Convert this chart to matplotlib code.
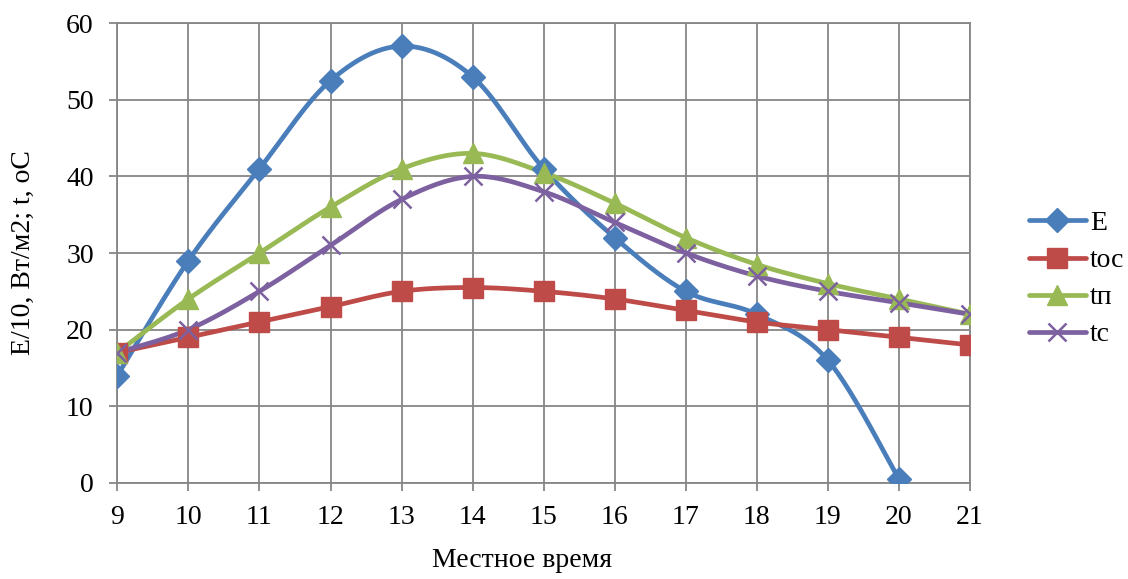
import numpy as np
import matplotlib
matplotlib.use('Agg')
import matplotlib.pyplot as plt
from matplotlib.lines import Line2D

plt.rcParams['font.family'] = ['Liberation Serif', 'DejaVu Serif']

hours = [9, 10, 11, 12, 13, 14, 15, 16, 17, 18, 19, 20, 21]
E_vals = [14, 29, 41, 52.5, 57, 53, 41, 32, 25, 22, 16, 0.5]
toc_vals = [17, 19, 21, 23, 25, 25.5, 25, 24, 22.5, 21, 20, 19, 18]
tp_vals = [17, 24, 30, 36, 41, 43, 40.5, 36.5, 32, 28.5, 26, 24, 22]
tc_vals = [17, 20, 25, 31, 37, 40, 38, 34, 30, 27, 25, 23.5, 22]


def smooth(x, y, n=30):
    # Catmull-Rom style bezier, like the spreadsheet "smoothed line"
    x = np.asarray(x, float)
    y = np.asarray(y, float)
    xs, ys = [x[0]], [y[0]]
    t = np.linspace(0, 1, n)[1:]
    for i in range(len(x) - 1):
        p0 = np.array([x[max(i - 1, 0)], y[max(i - 1, 0)]])
        p1 = np.array([x[i], y[i]])
        p2 = np.array([x[i + 1], y[i + 1]])
        p3 = np.array([x[min(i + 2, len(x) - 1)], y[min(i + 2, len(x) - 1)]])
        c1 = p1 + (p2 - p0) / 6.0
        c2 = p2 - (p3 - p1) / 6.0
        b = ((1 - t) ** 3)[:, None] * p1 + (3 * (1 - t) ** 2 * t)[:, None] * c1 \
            + (3 * (1 - t) * t ** 2)[:, None] * c2 + (t ** 3)[:, None] * p2
        xs.extend(b[:, 0])
        ys.extend(b[:, 1])
    return np.array(xs), np.array(ys)


series = [
    ('E', hours[:len(E_vals)], E_vals, '#4A7EBB', 'D', 12.5),
    ('tос', hours, toc_vals, '#BE4B48', 's', 14),
    ('tп', hours, tp_vals, '#98B954', '^', 14),
    ('tс', hours, tc_vals, '#7D60A0', 'x', 13),
]

fig = plt.figure(figsize=(11.28, 5.79), dpi=100)
ax = fig.add_axes([0.104, 0.166, 0.756, 0.794])

handles = []
for name, xv, yv, col, mk, ms in series:
    sx, sy = smooth(xv, yv)
    ax.plot(sx, sy, color=col, linewidth=3.4, solid_capstyle='round', zorder=3)
    if mk == 'x':
        ax.plot(xv, yv, linestyle='none', marker=mk, markersize=ms,
                markeredgewidth=1.8, color=col, zorder=4)
    else:
        ax.plot(xv, yv, linestyle='none', marker=mk, markersize=ms,
                color=col, markeredgecolor=col, zorder=4)
    handles.append(Line2D([0], [0], color=col, linewidth=3.4, marker=mk,
                          markersize=ms, markeredgewidth=1.8 if mk == 'x' else 1,
                          solid_capstyle='round'))

ax.set_xlim(9, 21)
ax.set_ylim(0, 60)
ax.set_xticks(hours)
ax.set_yticks(range(0, 61, 10))
ax.grid(True, color='#868686', linewidth=1.3)
ax.set_axisbelow(True)
for s in ax.spines.values():
    s.set_color('#868686')
    s.set_linewidth(1.3)
ax.tick_params(axis='both', labelsize=20, colors='#868686', labelcolor='black',
               length=6, width=1.3, direction='out')
ax.tick_params(axis='y', pad=11)
ax.tick_params(axis='x', pad=10)

ax.set_xlabel('Местное время', fontsize=20)
ax.xaxis.set_label_coords(0.475, -0.142)
ax.set_ylabel('E/10, Вт/м2; t, оС', fontsize=20, labelpad=22)

fig.legend(handles, [s[0] for s in series], loc='center left',
           bbox_to_anchor=(0.912, 0.518), frameon=False, fontsize=20,
           handlelength=2.05, labelspacing=0.42, handletextpad=0.15,
           borderpad=0, borderaxespad=0)

plt.savefig('out.png', dpi=100)
